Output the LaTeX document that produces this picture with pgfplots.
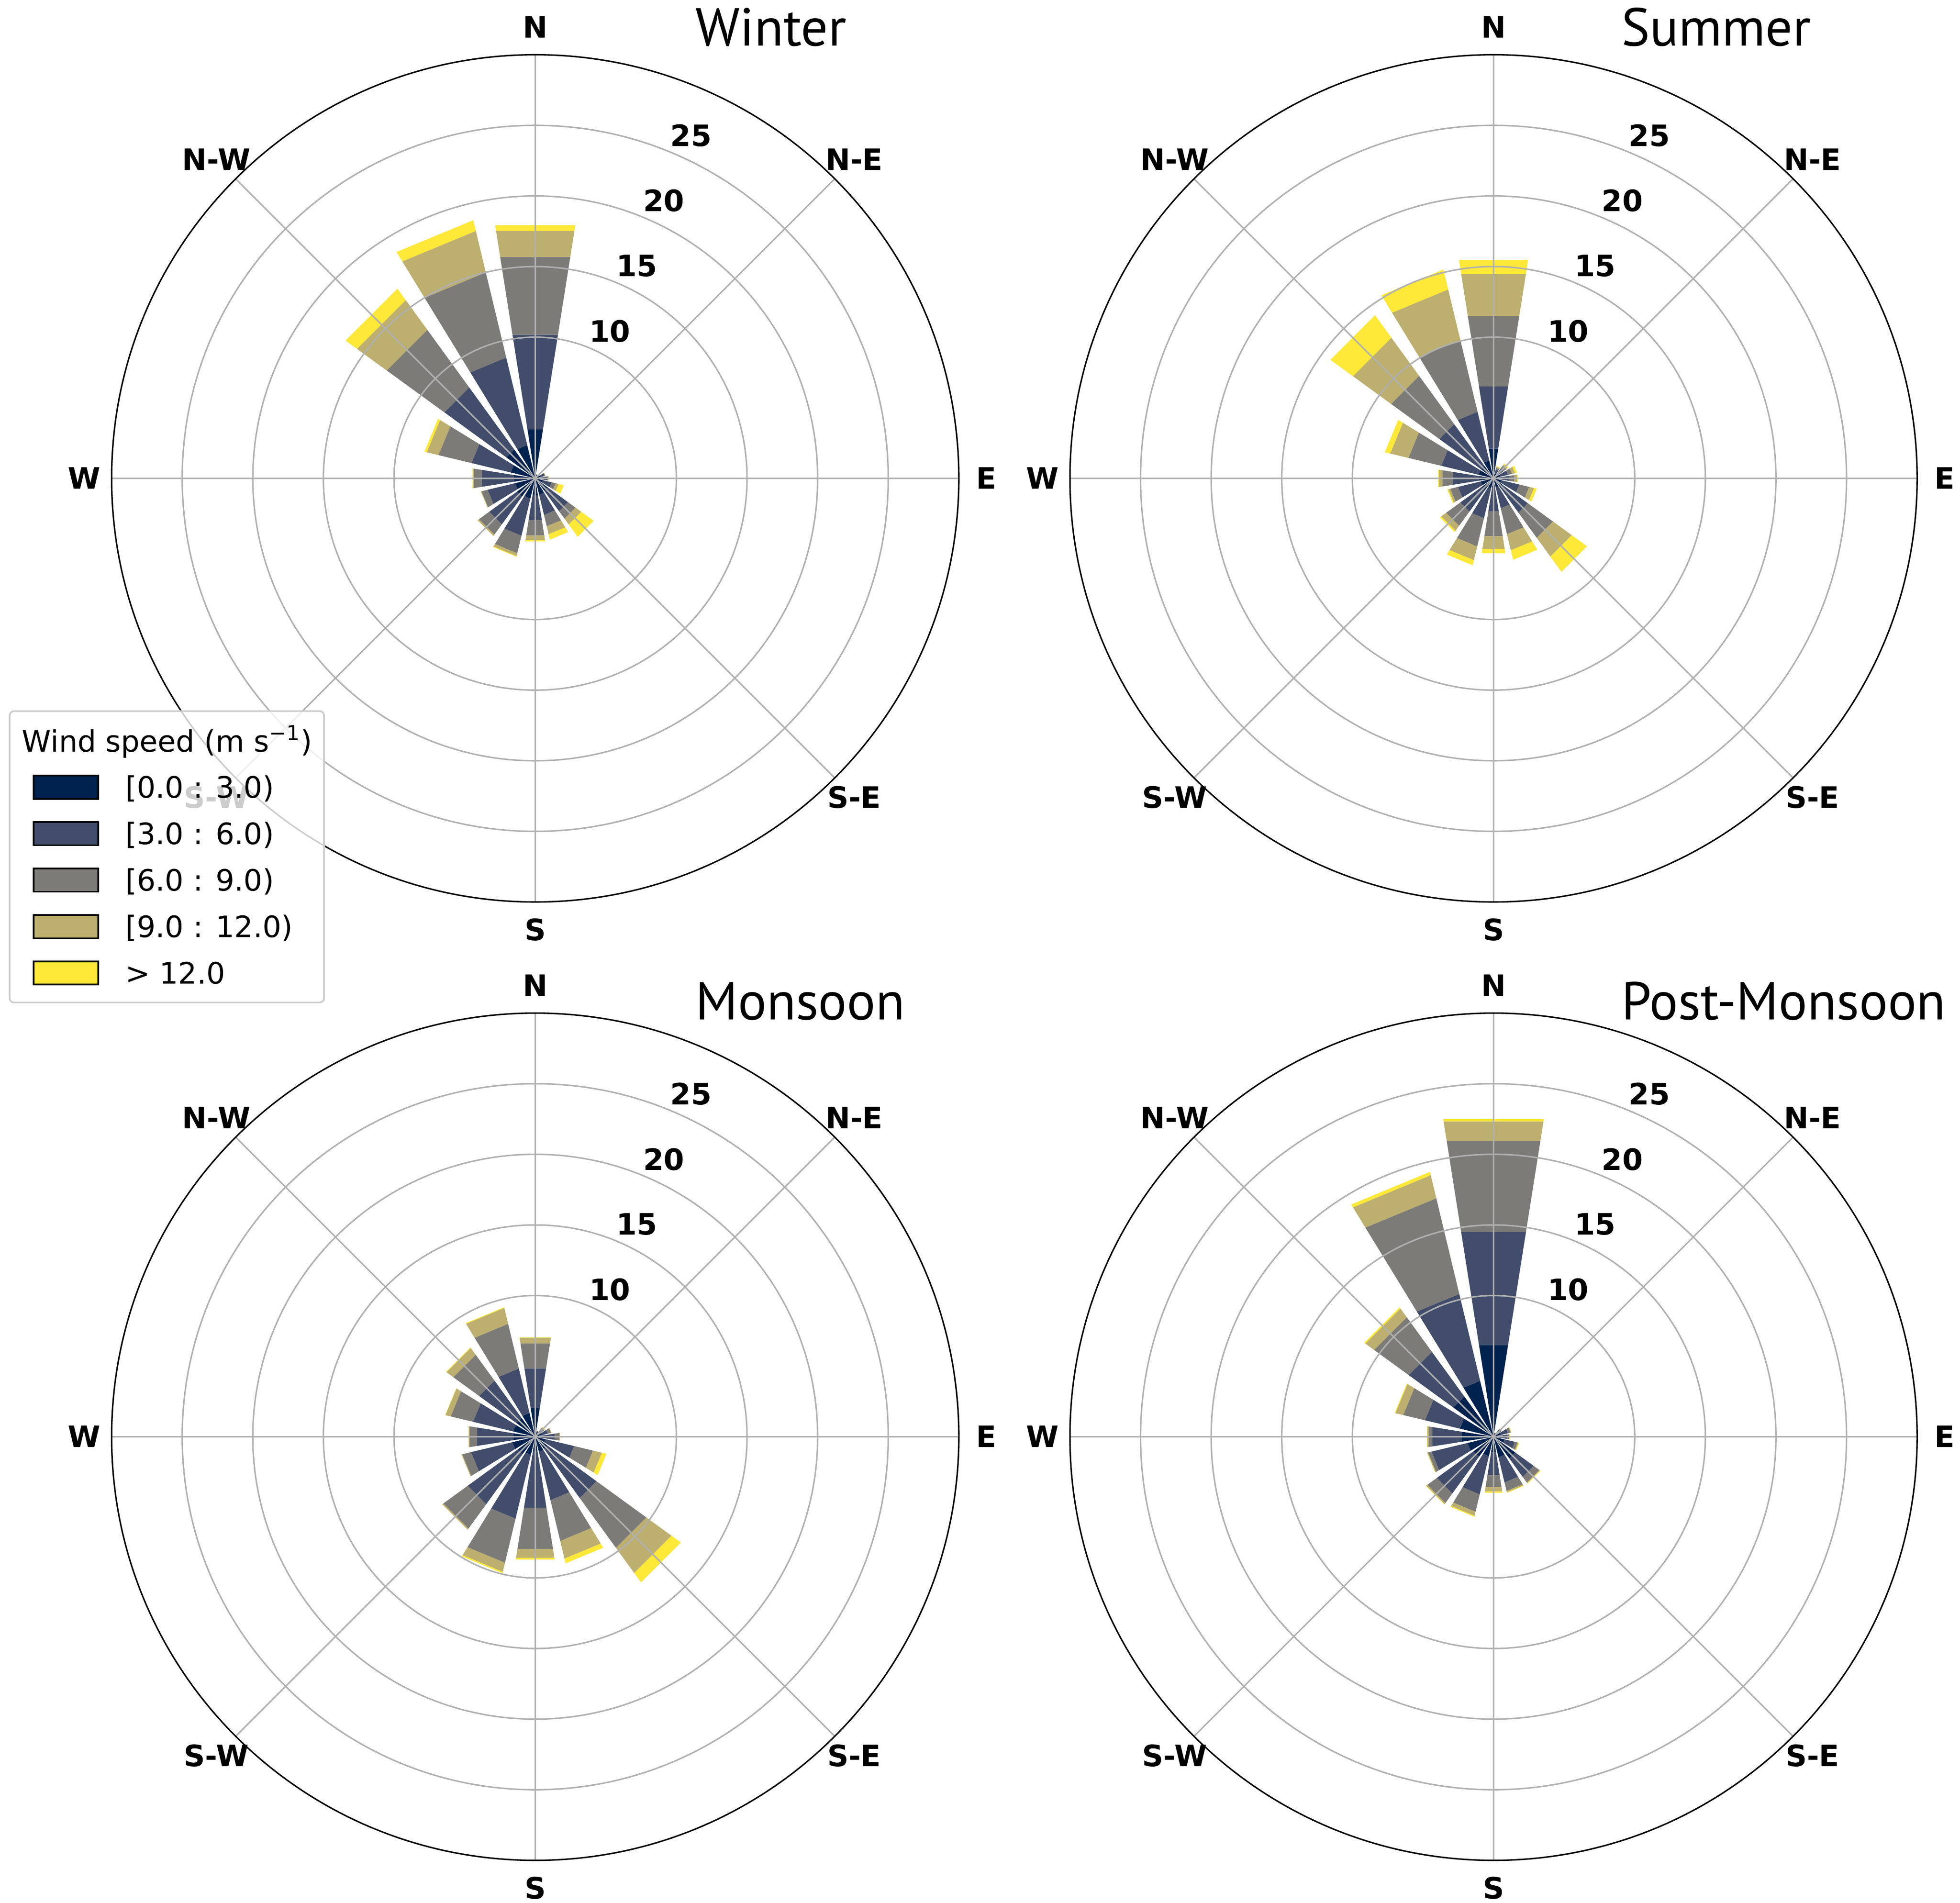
\documentclass[border=0pt]{standalone}
\usepackage{pgfplots}
\pgfplotsset{compat=1.18}
\usepackage{pgfplotstable}
\usepgfplotslibrary{polar}
\usepackage{fontspec}
\setmainfont{DejaVu Sans}
\newfontfamily\titlefont{PT Sans}

\definecolor{ws1}{HTML}{00224E}
\definecolor{ws2}{HTML}{414D6B}
\definecolor{ws3}{HTML}{7C7B78}
\definecolor{ws4}{HTML}{BCAF6F}
\definecolor{ws5}{HTML}{FEE838}
\definecolor{gridgray}{HTML}{B0B0B0}
\definecolor{legedge}{HTML}{CCCCCC}

% frequencies (%) per direction and speed class
\pgfplotstableread{
dir c1 c2 c3 c4 c5
N   3.52 6.76 5.59 1.86 0.42
NNE 0.20 0.08 0.02 0.00 0.00
NE  0.20 0.08 0.01 0.00 0.00
ENE 0.40 0.28 0.04 0.02 0.01
E   0.45 0.42 0.04 0.06 0.02
ESE 0.55 0.65 0.29 0.22 0.37
SE  1.08 1.79 0.66 0.51 1.08
SSE 1.18 1.49 0.82 0.58 0.39
S   1.22 1.78 1.09 0.34 0.09
SSW 1.46 2.72 1.28 0.20 0.05
SW  1.59 2.43 0.90 0.12 0.00
WSW 1.46 2.01 0.45 0.04 0.00
W   1.49 2.34 0.57 0.08 0.02
WNW 1.78 2.86 2.41 0.85 0.17
NW  2.52 5.43 5.05 2.60 1.00
NNW 2.43 6.37 6.20 3.02 0.78
}\tblwinter

\pgfplotstableread{
dir c1 c2 c3 c4 c5
N   2.13 4.46 5.04 3.02 1.01
NNE 0.35 0.30 0.12 0.08 0.05
NE  0.45 0.40 0.25 0.12 0.09
ENE 0.50 0.55 0.30 0.22 0.14
E   0.50 0.63 0.37 0.19 0.05
ESE 0.60 1.28 0.72 0.35 0.20
SE  0.82 2.18 2.20 1.65 1.33
SSE 0.65 1.53 1.89 1.17 0.69
S   0.64 1.74 1.77 0.90 0.31
SSW 0.71 2.19 2.06 1.00 0.37
SW  1.05 1.85 1.25 0.43 0.12
WSW 0.93 1.66 0.56 0.15 0.07
W   1.04 1.88 0.74 0.25 0.07
WNW 1.09 2.72 2.39 1.33 0.39
NW  1.10 3.64 4.23 3.34 1.97
NNW 1.31 3.54 5.23 3.68 1.45
}\tblsummer

\pgfplotstableread{
dir c1 c2 c3 c4 c5
N   2.06 2.84 1.80 0.40 0.02
NNE 0.25 0.15 0.05 0.01 0.00
NE  0.35 0.30 0.12 0.07 0.03
ENE 0.50 0.42 0.22 0.05 0.00
E   0.60 0.80 0.33 0.04 0.00
ESE 0.75 2.09 1.37 0.65 0.33
SE  1.05 4.32 4.36 2.20 0.82
SSE 1.09 3.53 2.97 1.29 0.34
S   1.00 4.10 2.95 0.63 0.13
SSW 1.31 4.66 3.21 0.66 0.10
SW  1.52 4.39 2.13 0.10 0.00
WSW 1.67 3.01 0.64 0.05 0.00
W   1.57 2.61 0.52 0.06 0.02
WNW 1.60 2.93 1.63 0.38 0.02
NW  1.64 3.27 2.26 0.60 0.04
NNW 1.73 3.24 3.25 1.16 0.05
}\tblmonsoon

\pgfplotstableread{
dir c1 c2 c3 c4 c5
N   6.58 8.10 6.55 1.38 0.16
NNE 0.20 0.08 0.02 0.00 0.00
NE  0.40 0.25 0.05 0.02 0.00
ENE 0.55 0.50 0.20 0.04 0.02
E   0.55 0.45 0.10 0.05 0.04
ESE 0.80 0.76 0.20 0.07 0.04
SE  1.90 1.61 0.50 0.06 0.04
SSE 1.50 1.83 0.62 0.10 0.04
S   1.11 1.64 0.85 0.33 0.09
SSW 1.41 2.79 1.27 0.29 0.07
SW  1.74 3.23 0.83 0.10 0.02
WSW 1.90 2.62 0.25 0.06 0.02
W   2.30 2.10 0.26 0.08 0.02
WNW 2.45 2.55 1.58 0.57 0.05
NW  3.51 3.92 3.03 0.76 0.10
NNW 4.07 6.33 6.97 1.68 0.24
}\tblpostmonsoon

\pgfplotsset{
  rose/.style={
    anchor=center,
    width=459.36bp, height=459.36bp, scale only axis,
    xmin=0, xmax=360, ymin=0, ymax=30,
    xtick={0,45,...,315}, ytick={10,15,20,25},
    xticklabel=\empty, yticklabel=\empty,
    major tick length=0pt,
    grid=major,
    major grid style={draw=gridgray, line width=0.8bp},
    separate axis lines,
    x axis line style={draw=black, line width=0.8bp},
    y axis line style={draw=none},
    axis on top,
    clip=false,
  }
}
\tikzset{
  dirlab/.style={font=\fontsize{16bp}{19bp}\selectfont\bfseries, inner sep=0pt, anchor=center},
  rlab/.style={dirlab, xshift=11.2bp, yshift=9bp},
}

\newcommand{\rosebars}[1]{%
  \foreach \i in {0,...,15}{%
    \pgfmathsetmacro{\thA}{mod(90-22.5*\i-9+720,360)}%
    \pgfmathsetmacro{\thB}{mod(90-22.5*\i+9+720,360)}%
    \gdef\rzero{0}%
    \foreach \k in {1,...,5}{%
      \pgfplotstablegetelem{\i}{c\k}\of#1%
      \pgfmathsetmacro{\rone}{\rzero+\pgfplotsretval}%
      \edef\temp{\noexpand\addplot[draw=none,fill=ws\k] coordinates {(\thA,\rzero) (\thB,\rzero) (\thB,\rone) (\thA,\rone)} -- cycle;}%
      \temp
      \global\let\rzero\rone
    }%
  }%
}

\newcommand{\roselabels}{%
  \node[dirlab] at (axis cs:90,31.95) {N};
  \node[dirlab] at (axis cs:45,31.95) {N-E};
  \node[dirlab] at (axis cs:0,31.95) {E};
  \node[dirlab] at (axis cs:315,31.95) {S-E};
  \node[dirlab] at (axis cs:270,31.95) {S};
  \node[dirlab] at (axis cs:225,31.95) {S-W};
  \node[dirlab] at (axis cs:180,31.95) {W};
  \node[dirlab] at (axis cs:135,31.95) {N-W};
  \node[rlab] at (axis cs:67.5,10) {10};
  \node[rlab] at (axis cs:67.5,15) {15};
  \node[rlab] at (axis cs:67.5,20) {20};
  \node[rlab] at (axis cs:67.5,25) {25};
}

\begin{document}
\begin{tikzpicture}
\path[use as bounding box] (0,0) rectangle (1062.72bp,1031.76bp);

\begin{polaraxis}[rose, at={(290.2bp,772.4bp)}]
\rosebars{\tblwinter}
\roselabels
\end{polaraxis}

\begin{polaraxis}[rose, at={(809.8bp,772.4bp)}]
\rosebars{\tblsummer}
\roselabels
\end{polaraxis}

\begin{polaraxis}[rose, at={(290.2bp,252.8bp)}]
\rosebars{\tblmonsoon}
\roselabels
\end{polaraxis}

\begin{polaraxis}[rose, at={(809.8bp,252.8bp)}]
\rosebars{\tblpostmonsoon}
\roselabels
\end{polaraxis}

% titles
\node[anchor=base west, inner sep=0pt, font=\titlefont\fontsize{29bp}{35bp}\selectfont] at (377.0bp,1006.96bp) {Winter};
\node[anchor=base west, inner sep=0pt, font=\titlefont\fontsize{29bp}{35bp}\selectfont] at (879.0bp,1006.96bp) {Summer};
\node[anchor=base west, inner sep=0pt, font=\titlefont\fontsize{29bp}{35bp}\selectfont] at (377.0bp,478.96bp) {Monsoon};
\node[anchor=base west, inner sep=0pt, font=\titlefont\fontsize{29bp}{35bp}\selectfont] at (879.0bp,478.96bp) {Post-Monsoon};

% legend
\draw[draw=legedge, line width=0.9bp, rounded corners=2.4bp, fill=white, fill opacity=0.8] (5.23bp,488.2bp) rectangle (175.7bp,646.2bp);
\node[anchor=base, inner sep=0pt, font=\fontsize{16bp}{19bp}\selectfont] at (90.6bp,624.2bp) {Wind speed (m s\textsuperscript{\char"2212 1})};
\foreach \cy/\col/\lab in {604.96/ws1/{[0.0 : 3.0)}, 579.78/ws2/{[3.0 : 6.0)}, 554.6/ws3/{[6.0 : 9.0)}, 529.42/ws4/{[9.0 : 12.0)}, 504.24/ws5/{> 12.0}}{
  \draw[fill=\col, draw=black, line width=0.9bp] (18.24bp,\cy bp-6.32bp) rectangle (53.3bp,\cy bp+6.32bp);
  \node[anchor=base west, inner sep=0pt, font=\fontsize{16bp}{19bp}\selectfont] at (67.8bp,\cy bp-5.9bp) {\lab};
}
\end{tikzpicture}
\end{document}
